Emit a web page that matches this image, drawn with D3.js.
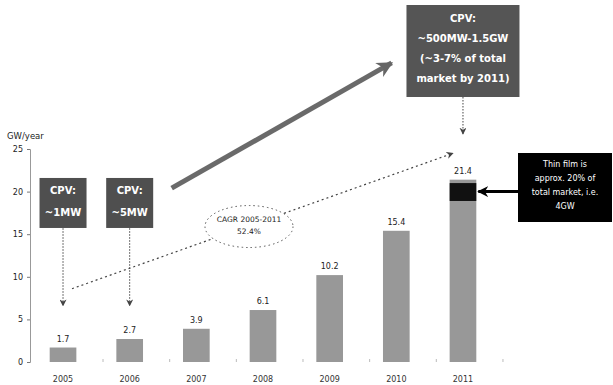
<!DOCTYPE html>
<html>
<head>
<meta charset="utf-8">
<style>
  body { margin: 0; background: #fff; }
  svg { display: block; font-family: "DejaVu Sans", Verdana, sans-serif; }
</style>
</head>
<body>
<svg width="613" height="385"></svg>
<script src="https://d3js.org/d3.v7.min.js"></script>
<script>

// data
var years = ["2005", "2006", "2007", "2008", "2009", "2010", "2011"];
var capacity = [1.7, 2.7, 3.9, 6.1, 10.2, 15.4, 21.4];
var yTicks = [0, 5, 10, 15, 20, 25];
var thinFilmBand = [18.9, 21.0];   // dark part of the 2011 bar
var cagrText = ["CAGR 2005-2011", "52.4%"];

var svg = d3.select("svg");

var x = d3.scaleBand()
    .domain(years)
    .range([29.7, 496.3])
    .paddingInner(0.6)
    .paddingOuter(0.3);

var y = d3.scaleLinear()
    .domain([0, 25])
    .range([362, 149]);

var cx = function(yr) { return x(yr) + x.bandwidth() / 2; };

var defs = svg.append("defs");
function marker(id, color, w, h) {
  defs.append("marker")
      .attr("id", id)
      .attr("viewBox", "0 0 10 10")
      .attr("refX", 9).attr("refY", 5)
      .attr("markerUnits", "userSpaceOnUse")
      .attr("markerWidth", w).attr("markerHeight", h)
      .attr("orient", "auto")
    .append("path")
      .attr("d", "M0,0 L10,5 L0,10 L3,5 Z")
      .attr("fill", color);
}
marker("dot-arrow", "#444", 7, 7);
marker("big-arrow", "#666", 16, 16);
marker("black-arrow", "#000", 11, 11);

// y axis
var yAxis = svg.append("g")
    .attr("transform", "translate(30,0)")
    .call(d3.axisLeft(y).tickValues(yTicks).tickSize(3).tickPadding(4));
yAxis.select(".domain").attr("stroke", "#999");
yAxis.selectAll(".tick line").attr("stroke", "#777");
yAxis.selectAll("text")
    .attr("font-family", "DejaVu Sans")
    .attr("font-size", 8).attr("fill", "#222");

svg.append("text")
    .attr("x", 7).attr("y", 139)
    .attr("font-size", 8.5)
    .attr("fill", "#222")
    .text("GW/year");

// small ticks between bars on the base line
svg.append("g").selectAll("line")
    .data(years)
  .enter().append("line")
    .attr("x1", function(d) { return x(d) + x.step() * 0.8; })
    .attr("x2", function(d) { return x(d) + x.step() * 0.8; })
    .attr("y1", y(0) - 3).attr("y2", y(0))
    .attr("stroke", "#bbb");

// bars
svg.append("g").selectAll("rect")
    .data(years)
  .enter().append("rect")
    .attr("x", function(d) { return x(d); })
    .attr("width", x.bandwidth())
    .attr("y", function(d, i) { return y(capacity[i]); })
    .attr("height", function(d, i) { return y(0) - y(capacity[i]); })
    .attr("fill", "#989898");

svg.append("rect")
    .attr("x", x("2011"))
    .attr("width", x.bandwidth())
    .attr("y", y(thinFilmBand[1]))
    .attr("height", y(thinFilmBand[0]) - y(thinFilmBand[1]))
    .attr("fill", "#111");

svg.append("g").selectAll("text")
    .data(years)
  .enter().append("text")
    .attr("x", cx)
    .attr("y", function(d, i) { return y(capacity[i]) - 6; })
    .attr("text-anchor", "middle")
    .attr("font-size", 8)
    .attr("fill", "#222")
    .text(function(d, i) { return capacity[i]; });

svg.append("g").selectAll("text")
    .data(years)
  .enter().append("text")
    .attr("x", cx)
    .attr("y", 382)
    .attr("text-anchor", "middle")
    .attr("font-size", 8)
    .attr("fill", "#333")
    .text(function(d) { return d; });

// trend line (dotted) with CAGR ellipse
svg.append("line")
    .attr("x1", cx("2005") + 9).attr("y1", y(8.6))
    .attr("x2", cx("2011") - 10).attr("y2", y(24.5))
    .attr("stroke", "#444")
    .attr("stroke-width", 1.2)
    .attr("stroke-dasharray", "2,3")
    .attr("marker-end", "url(#dot-arrow)");

var ell = svg.append("g").attr("transform", "translate(249," + y(15.9) + ")");
ell.append("ellipse")
    .attr("rx", 44).attr("ry", 21)
    .attr("fill", "#fff")
    .attr("stroke", "#555")
    .attr("stroke-dasharray", "1.5,3");
ell.selectAll("text")
    .data(cagrText)
  .enter().append("text")
    .attr("y", function(d, i) { return -5 + i * 12; })
    .attr("text-anchor", "middle")
    .attr("font-size", 7.5)
    .attr("fill", "#222")
    .text(function(d) { return d; });

// big grey arrow
svg.append("line")
    .attr("x1", cx("2006") + 42).attr("y1", y(20.4))
    .attr("x2", cx("2009") + 62).attr("y2", y(35.1))
    .attr("stroke", "#6a6a6a")
    .attr("stroke-width", 5)
    .attr("marker-end", "url(#big-arrow)");

// CPV boxes
function box(xc, top, w, h, fill, lines, fs, gap, firstY) {
  var g = svg.append("g");
  g.append("rect")
      .attr("x", xc - w / 2).attr("y", top)
      .attr("width", w).attr("height", h)
      .attr("fill", fill);
  g.selectAll("text")
      .data(lines)
    .enter().append("text")
      .attr("x", xc)
      .attr("y", function(d, i) { return top + firstY + i * gap; })
      .attr("text-anchor", "middle")
      .attr("font-size", fs)
      .attr("font-weight", "bold")
      .attr("fill", "#fff")
      .text(function(d) { return d; });
}

[["2005", "~1MW"], ["2006", "~5MW"]].forEach(function(b) {
  svg.append("line")
      .attr("x1", cx(b[0])).attr("x2", cx(b[0]))
      .attr("y1", y(15.7)).attr("y2", y(6.6))
      .attr("stroke", "#444")
      .attr("stroke-dasharray", "1.5,1.5")
      .attr("marker-end", "url(#dot-arrow)");
  box(cx(b[0]), y(21.6), 47, 50, "#4f4f4f", ["CPV:", b[1]], 10, 22, 16);
});

svg.append("line")
    .attr("x1", cx("2011")).attr("x2", cx("2011"))
    .attr("y1", 97).attr("y2", 134)
    .attr("stroke", "#444")
    .attr("stroke-dasharray", "1.5,1.5")
    .attr("marker-end", "url(#dot-arrow)");
box(cx("2011"), 5, 113, 92, "#555",
    ["CPV:", "~500MW-1.5GW", "(~3-7% of total", "market by 2011)"], 10, 20, 17);

// thin film note
svg.append("line")
    .attr("x1", 519).attr("x2", x("2011") + x.bandwidth() + 2)
    .attr("y1", y(20)).attr("y2", y(20))
    .attr("stroke", "#000")
    .attr("stroke-width", 3)
    .attr("marker-end", "url(#black-arrow)");
var tf = svg.append("g");
tf.append("rect")
    .attr("x", 518).attr("y", 153)
    .attr("width", 94).attr("height", 69)
    .attr("fill", "#000");
tf.selectAll("text")
    .data(["Thin film is", "approx. 20% of", "total market, i.e.", "4GW"])
  .enter().append("text")
    .attr("x", 565)
    .attr("y", function(d, i) { return 167 + i * 14; })
    .attr("text-anchor", "middle")
    .attr("font-size", 8)
    .attr("fill", "#fff")
    .text(function(d) { return d; });

</script>
</body>
</html>
